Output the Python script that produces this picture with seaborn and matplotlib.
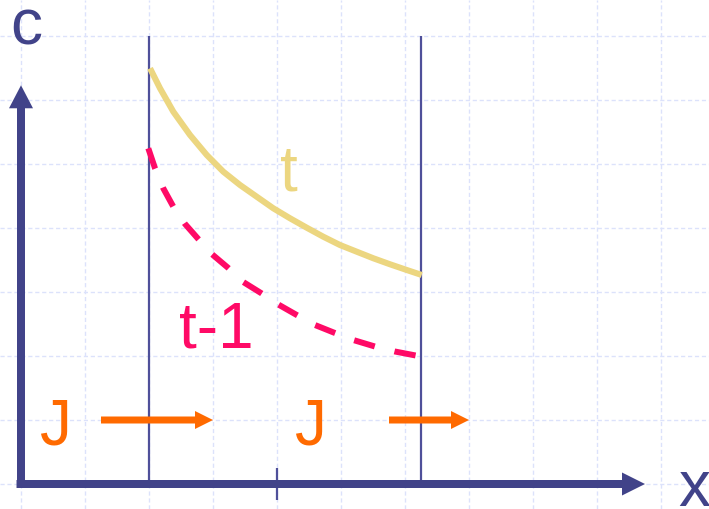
import matplotlib
matplotlib.use("Agg")
import matplotlib.pyplot as plt
import seaborn as sns
import pandas as pd

# ---- data (grid units, 1 unit = one grid cell) ----
t_x = [2.016, 2.172, 2.380, 2.641, 2.902, 3.161, 3.422, 3.683, 3.942,
       4.203, 4.464, 4.723, 4.984, 5.245, 5.505, 5.766, 6.027, 6.261]
t_y = [6.495, 6.183, 5.817, 5.453, 5.141, 4.880, 4.672, 4.489, 4.308,
       4.152, 4.005, 3.864, 3.734, 3.630, 3.527, 3.433, 3.344, 3.266]

tm1_x = [1.989, 2.094, 2.223, 2.380, 2.563, 2.770, 2.980, 3.239, 3.473,
         3.761, 4.020, 4.308, 4.594, 4.906, 5.192, 5.531, 5.844, 6.208]
tm1_y = [5.245, 4.933, 4.620, 4.333, 4.063, 3.828, 3.594, 3.375, 3.156,
         2.977, 2.805, 2.641, 2.484, 2.359, 2.250, 2.148, 2.070, 2.000]

boundaries = [2.0, 6.25]
mid_tick = [4.0]
flux_arrows = [(1.25, 3.0), (5.75, 7.0)]
flux_level = 1.0
j_labels_x = [0.545, 4.53]

labels = {"t": "t", "tm1": "t-1", "J": "J", "c": "c", "x": "x"}

# ---- style ----
sns.set_style("whitegrid", {
    "grid.color": "#dce2fb",
    "grid.linestyle": (0, (3, 2)),
    "axes.edgecolor": "white",
})
plt.rcParams["font.family"] = ["Liberation Sans", "DejaVu Sans"]

NAVY = "#414389"
THIN = "#4f509a"
KHAKI = "#ecd680"
MAGENTA = "#ff0a66"
ORANGE = "#ff6a00"

XLIM = (-21 / 64, 688 / 64)
YLIM = (-25 / 64, 484 / 64)

fig = plt.figure(figsize=(7.09, 5.09), dpi=100)
ax = fig.add_axes([0, 0, 1, 1])

# curves
df_t = pd.DataFrame({"x": t_x, "y": t_y})
df_m = pd.DataFrame({"x": tm1_x, "y": tm1_y})
sns.lineplot(data=df_t, x="x", y="y", ax=ax, color=KHAKI, lw=4.4, sort=False,
             estimator=None, zorder=4, solid_capstyle="butt",
             solid_joinstyle="round")
sns.lineplot(data=df_m, x="x", y="y", ax=ax, color=MAGENTA, lw=4.3, sort=False,
             estimator=None, zorder=4, linestyle=(0, (3.6, 3.4)),
             dash_capstyle="butt", dash_joinstyle="round")

# boundaries
for bx in boundaries:
    ax.plot([bx, bx], [0, 7], color=THIN, lw=1.6, zorder=3, solid_capstyle="butt")
for mx in mid_tick:
    ax.plot([mx, mx], [-0.25, 0.25], color=THIN, lw=1.6, zorder=3, solid_capstyle="butt")

# axes arrows
u = 1 / 64
ax.arrow(0, -0.06, 0, 6.29, width=8 * u, head_width=24 * u, head_length=23 * u,
         length_includes_head=True, color=NAVY, zorder=5, lw=0)
ax.arrow(-0.07, 0, 9.82, 0, width=8 * u, head_width=23 * u, head_length=23 * u,
         length_includes_head=True, color=NAVY, zorder=5, lw=0)

# flux arrows
for x0, x1 in flux_arrows:
    ax.arrow(x0, flux_level, x1 - x0, 0, width=7 * u, head_width=18 * u,
             head_length=18 * u, length_includes_head=True, color=ORANGE,
             zorder=5, lw=0)

fs = 46
ax.text(4.19, 4.59, labels["t"], color=KHAKI, fontsize=fs, ha="center", va="baseline", zorder=6)
ax.text(3.05, 2.125, labels["tm1"], color=MAGENTA, fontsize=fs, ha="center", va="baseline", zorder=6)
for jx in j_labels_x:
    ax.text(jx, 0.61, labels["J"], color=ORANGE, fontsize=fs, ha="center", va="baseline", zorder=6)
ax.text(0.078, 6.86, labels["c"], color=NAVY, fontsize=fs, ha="center", va="baseline", zorder=6)
ax.text(10.52, -0.344, labels["x"], color=NAVY, fontsize=fs, ha="center", va="baseline", zorder=6)

ax.set_xlabel("")
ax.set_ylabel("")
ax.set_xticks(range(0, 12))
ax.set_yticks(range(0, 8))
ax.grid(True, lw=1.0)
ax.tick_params(left=False, bottom=False, labelleft=False, labelbottom=False)
for s in ax.spines.values():
    s.set_visible(False)
ax.set_xlim(*XLIM)
ax.set_ylim(*YLIM)
fig.savefig("out.png", dpi=100)
